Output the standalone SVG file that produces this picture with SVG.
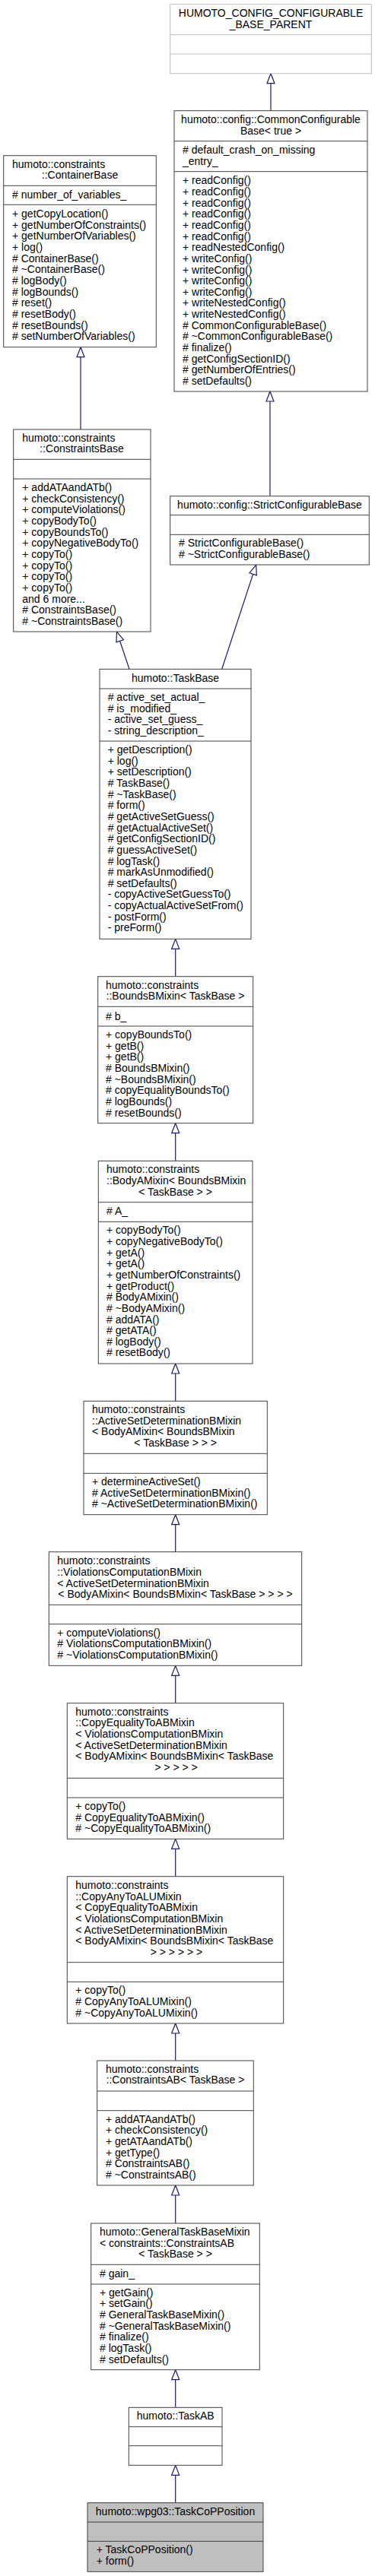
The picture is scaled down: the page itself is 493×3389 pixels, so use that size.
<svg xmlns="http://www.w3.org/2000/svg" width="493" height="3389" viewBox="0 0 493 3389">
<style>
text{font-family:"Liberation Sans",Arial,Helvetica,sans-serif;font-size:14px;fill:#000}
.c{text-anchor:middle}
.box{fill:#fff;stroke:#404040;stroke-width:1}
.gray{fill:#fff;stroke:#bfbfbf;stroke-width:1}
.cur{fill:#bfbfbf;stroke:#404040;stroke-width:1}
.d{stroke:#404040;stroke-width:1}
.dg{stroke:#bfbfbf;stroke-width:1}
.e{fill:none;stroke:#191970;stroke-width:1.2;marker-end:url(#tri)}
</style>
<defs>
<marker id="tri" markerUnits="userSpaceOnUse" markerWidth="15" markerHeight="12" refX="13" refY="5" orient="auto" overflow="visible">
<path d="M0,0 L13,5 L0,10 Z" fill="#fff" stroke="#191970" stroke-width="1.2"/>
</marker>
</defs>
<rect width="493" height="3389" fill="#fff"/>

<g id="edges">
<path class="e" d="M356,145.7 L356,96.7"/>
<path class="e" d="M355,652.7 L355,515"/>
<path class="e" d="M106,565 L106,456.7"/>
<path class="e" d="M170,880.3 L153.5,831"/>
<path class="e" d="M291.7,880.3 L336.7,743"/>
<path class="e" d="M230.7,1284.7 L230.7,1235.3"/>
<path class="e" d="M230.7,1527.3 L230.7,1477.7"/>
<path class="e" d="M230.7,1843.3 L230.7,1794"/>
<path class="e" d="M230.7,2041.7 L230.7,1992.7"/>
<path class="e" d="M230.7,2240.7 L230.7,2191.3"/>
<path class="e" d="M230.7,2468.7 L230.7,2419.3"/>
<path class="e" d="M230.7,2711 L230.7,2662"/>
<path class="e" d="M230.7,2925 L230.7,2875"/>
<path class="e" d="M230.7,3167.3 L230.7,3117.7"/>
<path class="e" d="M230.7,3292.7 L230.7,3243.3"/>
</g>

<g id="HUMOTO_CONFIG_CONFIGURABLE_BASE_PARENT">
<rect class="gray" x="223.7" y="5.7" width="264.6" height="91"/>
<line class="dg" x1="223.7" y1="45.7" x2="488.3" y2="45.7"/>
<line class="dg" x1="223.7" y1="71" x2="488.3" y2="71"/>
<text class="c" x="356" y="22">HUMOTO_CONFIG_CONFIGURABLE</text>
<text class="c" x="356" y="37">_BASE_PARENT</text>
</g>

<g id="CommonConfigurableBase">
<rect class="box" x="229" y="145.7" width="254" height="369.3"/>
<line class="d" x1="229" y1="185.7" x2="483" y2="185.7"/>
<line class="d" x1="229" y1="225.7" x2="483" y2="225.7"/>
<text class="c" x="356" y="161.7">humoto::config::CommonConfigurable</text>
<text class="c" x="356" y="176.7">Base&lt; true &gt;</text>
<text x="240" y="202.3"># default_crash_on_missing</text>
<text x="240" y="217.3">_entry_</text>
<text x="240" y="242.3">+ readConfig()</text>
<text x="240" y="256.95">+ readConfig()</text>
<text x="240" y="271.6">+ readConfig()</text>
<text x="240" y="286.25">+ readConfig()</text>
<text x="240" y="300.9">+ readConfig()</text>
<text x="240" y="315.55">+ readConfig()</text>
<text x="240" y="330.2">+ readNestedConfig()</text>
<text x="240" y="344.85">+ writeConfig()</text>
<text x="240" y="359.5">+ writeConfig()</text>
<text x="240" y="374.15">+ writeConfig()</text>
<text x="240" y="388.8">+ writeConfig()</text>
<text x="240" y="403.45">+ writeNestedConfig()</text>
<text x="240" y="418.1">+ writeNestedConfig()</text>
<text x="240" y="432.75"># CommonConfigurableBase()</text>
<text x="240" y="447.4"># ~CommonConfigurableBase()</text>
<text x="240" y="462.05"># finalize()</text>
<text x="240" y="476.7"># getConfigSectionID()</text>
<text x="240" y="491.35"># getNumberOfEntries()</text>
<text x="240" y="506"># setDefaults()</text>
</g>

<g id="ContainerBase">
<rect class="box" x="4.7" y="204.7" width="200.6" height="252"/>
<line class="d" x1="4.7" y1="244.3" x2="205.3" y2="244.3"/>
<line class="d" x1="4.7" y1="269.3" x2="205.3" y2="269.3"/>
<text x="16" y="221">humoto::constraints</text>
<text class="c" x="105" y="235">::ContainerBase</text>
<text x="16" y="261"># number_of_variables_</text>
<text x="16" y="286">+ getCopyLocation()</text>
<text x="16" y="300.65">+ getNumberOfConstraints()</text>
<text x="16" y="315.3">+ getNumberOfVariables()</text>
<text x="16" y="329.95">+ log()</text>
<text x="16" y="344.6"># ContainerBase()</text>
<text x="16" y="359.25"># ~ContainerBase()</text>
<text x="16" y="373.9"># logBody()</text>
<text x="16" y="388.55"># logBounds()</text>
<text x="16" y="403.2"># reset()</text>
<text x="16" y="417.85"># resetBody()</text>
<text x="16" y="432.5"># resetBounds()</text>
<text x="16" y="447.15"># setNumberOfVariables()</text>
</g>

<g id="ConstraintsBase">
<rect class="box" x="17.7" y="565" width="180.3" height="266"/>
<line class="d" x1="17.7" y1="604.3" x2="198" y2="604.3"/>
<line class="d" x1="17.7" y1="630" x2="198" y2="630"/>
<text x="29.3" y="581">humoto::constraints</text>
<text class="c" x="107.5" y="595">::ConstraintsBase</text>
<text x="29.3" y="646">+ addATAandATb()</text>
<text x="29.3" y="660.65">+ checkConsistency()</text>
<text x="29.3" y="675.3">+ computeViolations()</text>
<text x="29.3" y="689.95">+ copyBodyTo()</text>
<text x="29.3" y="704.6">+ copyBoundsTo()</text>
<text x="29.3" y="719.25">+ copyNegativeBodyTo()</text>
<text x="29.3" y="733.9">+ copyTo()</text>
<text x="29.3" y="748.55">+ copyTo()</text>
<text x="29.3" y="763.2">+ copyTo()</text>
<text x="29.3" y="777.85">+ copyTo()</text>
<text x="29.3" y="792.5">and 6 more...</text>
<text x="29.3" y="807.15"># ConstraintsBase()</text>
<text x="29.3" y="821.8"># ~ConstraintsBase()</text>
</g>

<g id="StrictConfigurableBase">
<rect class="box" x="223.7" y="652.7" width="261.6" height="90.3"/>
<line class="d" x1="223.7" y1="677.7" x2="485.3" y2="677.7"/>
<line class="d" x1="223.7" y1="703.3" x2="485.3" y2="703.3"/>
<text class="c" x="354.5" y="669">humoto::config::StrictConfigurableBase</text>
<text x="235" y="719"># StrictConfigurableBase()</text>
<text x="235" y="733.65"># ~StrictConfigurableBase()</text>
</g>

<g id="TaskBase">
<rect class="box" x="131" y="880.3" width="199" height="355"/>
<line class="d" x1="131" y1="906" x2="330" y2="906"/>
<line class="d" x1="131" y1="975" x2="330" y2="975"/>
<text class="c" x="230.5" y="896.7">humoto::TaskBase</text>
<text x="141.7" y="922"># active_set_actual_</text>
<text x="141.7" y="936.65"># is_modified_</text>
<text x="141.7" y="951.3">- active_set_guess_</text>
<text x="141.7" y="965.95">- string_description_</text>
<text x="141.7" y="991">+ getDescription()</text>
<text x="141.7" y="1005.65">+ log()</text>
<text x="141.7" y="1020.3">+ setDescription()</text>
<text x="141.7" y="1034.95"># TaskBase()</text>
<text x="141.7" y="1049.6"># ~TaskBase()</text>
<text x="141.7" y="1064.25"># form()</text>
<text x="141.7" y="1078.9"># getActiveSetGuess()</text>
<text x="141.7" y="1093.55"># getActualActiveSet()</text>
<text x="141.7" y="1108.2"># getConfigSectionID()</text>
<text x="141.7" y="1122.85"># guessActiveSet()</text>
<text x="141.7" y="1137.5"># logTask()</text>
<text x="141.7" y="1152.15"># markAsUnmodified()</text>
<text x="141.7" y="1166.8"># setDefaults()</text>
<text x="141.7" y="1181.45">- copyActiveSetGuessTo()</text>
<text x="141.7" y="1196.1">- copyActualActiveSetFrom()</text>
<text x="141.7" y="1210.75">- postForm()</text>
<text x="141.7" y="1225.4">- preForm()</text>
</g>

<g id="BoundsBMixin">
<rect class="box" x="128.7" y="1284.7" width="204" height="193"/>
<line class="d" x1="128.7" y1="1324.3" x2="332.7" y2="1324.3"/>
<line class="d" x1="128.7" y1="1350" x2="332.7" y2="1350"/>
<text x="139" y="1300.7">humoto::constraints</text>
<text class="c" x="230.5" y="1315.3">::BoundsBMixin&lt; TaskBase &gt;</text>
<text x="139" y="1341.7"># b_</text>
<text x="139" y="1366">+ copyBoundsTo()</text>
<text x="139" y="1380.65">+ getB()</text>
<text x="139" y="1395.3">+ getB()</text>
<text x="139" y="1409.95"># BoundsBMixin()</text>
<text x="139" y="1424.6"># ~BoundsBMixin()</text>
<text x="139" y="1439.25"># copyEqualityBoundsTo()</text>
<text x="139" y="1453.9"># logBounds()</text>
<text x="139" y="1468.55"># resetBounds()</text>
</g>

<g id="BodyAMixin">
<rect class="box" x="129.3" y="1527.3" width="202.7" height="266.7"/>
<line class="d" x1="129.3" y1="1581.7" x2="332" y2="1581.7"/>
<line class="d" x1="129.3" y1="1607.3" x2="332" y2="1607.3"/>
<text x="140" y="1543.3">humoto::constraints</text>
<text x="140" y="1558">::BodyAMixin&lt; BoundsBMixin</text>
<text class="c" x="230.5" y="1572.7">&lt; TaskBase &gt; &gt;</text>
<text x="140" y="1598.3"># A_</text>
<text x="140" y="1623.3">+ copyBodyTo()</text>
<text x="140" y="1637.95">+ copyNegativeBodyTo()</text>
<text x="140" y="1652.6">+ getA()</text>
<text x="140" y="1667.25">+ getA()</text>
<text x="140" y="1681.9">+ getNumberOfConstraints()</text>
<text x="140" y="1696.55">+ getProduct()</text>
<text x="140" y="1711.2"># BodyAMixin()</text>
<text x="140" y="1725.85"># ~BodyAMixin()</text>
<text x="140" y="1740.5"># addATA()</text>
<text x="140" y="1755.15"># getATA()</text>
<text x="140" y="1769.8"># logBody()</text>
<text x="140" y="1784.45"># resetBody()</text>
</g>

<g id="ActiveSetDeterminationBMixin">
<rect class="box" x="110" y="1843.3" width="241.3" height="149.4"/>
<line class="d" x1="110" y1="1912.3" x2="351.3" y2="1912.3"/>
<line class="d" x1="110" y1="1938.3" x2="351.3" y2="1938.3"/>
<text x="121" y="1859">humoto::constraints</text>
<text x="121" y="1873.65">::ActiveSetDeterminationBMixin</text>
<text x="121" y="1888.3">&lt; BodyAMixin&lt; BoundsBMixin</text>
<text class="c" x="230.7" y="1902.95">&lt; TaskBase &gt; &gt; &gt;</text>
<text x="121" y="1954">+ determineActiveSet()</text>
<text x="121" y="1968.65"># ActiveSetDeterminationBMixin()</text>
<text x="121" y="1983.3"># ~ActiveSetDeterminationBMixin()</text>
</g>

<g id="ViolationsComputationBMixin">
<rect class="box" x="64.3" y="2041.7" width="332.4" height="149.6"/>
<line class="d" x1="64.3" y1="2111.3" x2="396.7" y2="2111.3"/>
<line class="d" x1="64.3" y1="2136.7" x2="396.7" y2="2136.7"/>
<text x="75.3" y="2058.3">humoto::constraints</text>
<text x="75.3" y="2072.95">::ViolationsComputationBMixin</text>
<text x="75.3" y="2087.6">&lt; ActiveSetDeterminationBMixin</text>
<text class="c" x="230.5" y="2102.25">&lt; BodyAMixin&lt; BoundsBMixin&lt; TaskBase &gt; &gt; &gt; &gt;</text>
<text x="75.3" y="2152.7">+ computeViolations()</text>
<text x="75.3" y="2167.35"># ViolationsComputationBMixin()</text>
<text x="75.3" y="2182"># ~ViolationsComputationBMixin()</text>
</g>

<g id="CopyEqualityToABMixin">
<rect class="box" x="88.3" y="2240.7" width="284.4" height="178.6"/>
<line class="d" x1="88.3" y1="2339.3" x2="372.7" y2="2339.3"/>
<line class="d" x1="88.3" y1="2365" x2="372.7" y2="2365"/>
<text x="99.3" y="2256.7">humoto::constraints</text>
<text x="99.3" y="2271.35">::CopyEqualityToABMixin</text>
<text x="99.3" y="2286">&lt; ViolationsComputationBMixin</text>
<text x="99.3" y="2300.65">&lt; ActiveSetDeterminationBMixin</text>
<text x="99.3" y="2315.3">&lt; BodyAMixin&lt; BoundsBMixin&lt; TaskBase</text>
<text class="c" x="231.5" y="2329.95">&gt; &gt; &gt; &gt; &gt;</text>
<text x="99.3" y="2381">+ copyTo()</text>
<text x="99.3" y="2395.65"># CopyEqualityToABMixin()</text>
<text x="99.3" y="2410.3"># ~CopyEqualityToABMixin()</text>
</g>

<g id="CopyAnyToALUMixin">
<rect class="box" x="88.3" y="2468.7" width="284.4" height="193.3"/>
<line class="d" x1="88.3" y1="2581.7" x2="372.7" y2="2581.7"/>
<line class="d" x1="88.3" y1="2607.3" x2="372.7" y2="2607.3"/>
<text x="99.3" y="2485">humoto::constraints</text>
<text x="99.3" y="2499.65">::CopyAnyToALUMixin</text>
<text x="99.3" y="2514.3">&lt; CopyEqualityToABMixin</text>
<text x="99.3" y="2528.95">&lt; ViolationsComputationBMixin</text>
<text x="99.3" y="2543.6">&lt; ActiveSetDeterminationBMixin</text>
<text x="99.3" y="2558.25">&lt; BodyAMixin&lt; BoundsBMixin&lt; TaskBase</text>
<text class="c" x="232" y="2572.9">&gt; &gt; &gt; &gt; &gt; &gt;</text>
<text x="99.3" y="2623.3">+ copyTo()</text>
<text x="99.3" y="2637.95"># CopyAnyToALUMixin()</text>
<text x="99.3" y="2652.6"># ~CopyAnyToALUMixin()</text>
</g>

<g id="ConstraintsAB">
<rect class="box" x="127.7" y="2711" width="205.6" height="164"/>
<line class="d" x1="127.7" y1="2751" x2="333.3" y2="2751"/>
<line class="d" x1="127.7" y1="2776.7" x2="333.3" y2="2776.7"/>
<text x="139" y="2726.7">humoto::constraints</text>
<text class="c" x="230.5" y="2741.3">::ConstraintsAB&lt; TaskBase &gt;</text>
<text x="139" y="2792.7">+ addATAandATb()</text>
<text x="139" y="2807.35">+ checkConsistency()</text>
<text x="139" y="2822">+ getATAandATb()</text>
<text x="139" y="2836.65">+ getType()</text>
<text x="139" y="2851.3"># ConstraintsAB()</text>
<text x="139" y="2865.95"># ~ConstraintsAB()</text>
</g>

<g id="GeneralTaskBaseMixin">
<rect class="box" x="119.7" y="2925" width="221.6" height="192.7"/>
<line class="d" x1="119.7" y1="2979.3" x2="341.3" y2="2979.3"/>
<line class="d" x1="119.7" y1="3005" x2="341.3" y2="3005"/>
<text x="131" y="2941">humoto::GeneralTaskBaseMixin</text>
<text x="131" y="2955.65">&lt; constraints::ConstraintsAB</text>
<text class="c" x="230.5" y="2970.3">&lt; TaskBase &gt; &gt;</text>
<text x="131" y="2995.7"># gain_</text>
<text x="131" y="3020.7">+ getGain()</text>
<text x="131" y="3035.35">+ setGain()</text>
<text x="131" y="3050"># GeneralTaskBaseMixin()</text>
<text x="131" y="3064.65"># ~GeneralTaskBaseMixin()</text>
<text x="131" y="3079.3"># finalize()</text>
<text x="131" y="3093.95"># logTask()</text>
<text x="131" y="3108.6"># setDefaults()</text>
</g>

<g id="TaskAB">
<rect class="box" x="169.3" y="3167.3" width="122.7" height="76"/>
<line class="d" x1="169.3" y1="3192.7" x2="292" y2="3192.7"/>
<line class="d" x1="169.3" y1="3217.7" x2="292" y2="3217.7"/>
<text class="c" x="230.7" y="3183.3">humoto::TaskAB</text>
</g>

<g id="TaskCoPPosition">
<rect class="cur" x="115" y="3292.7" width="231" height="90.6"/>
<line class="d" x1="115" y1="3318" x2="346" y2="3318"/>
<line class="d" x1="115" y1="3343.3" x2="346" y2="3343.3"/>
<text class="c" x="230.5" y="3309">humoto::wpg03::TaskCoPPosition</text>
<text x="126.7" y="3359">+ TaskCoPPosition()</text>
<text x="126.7" y="3374">+ form()</text>
</g>
</svg>
